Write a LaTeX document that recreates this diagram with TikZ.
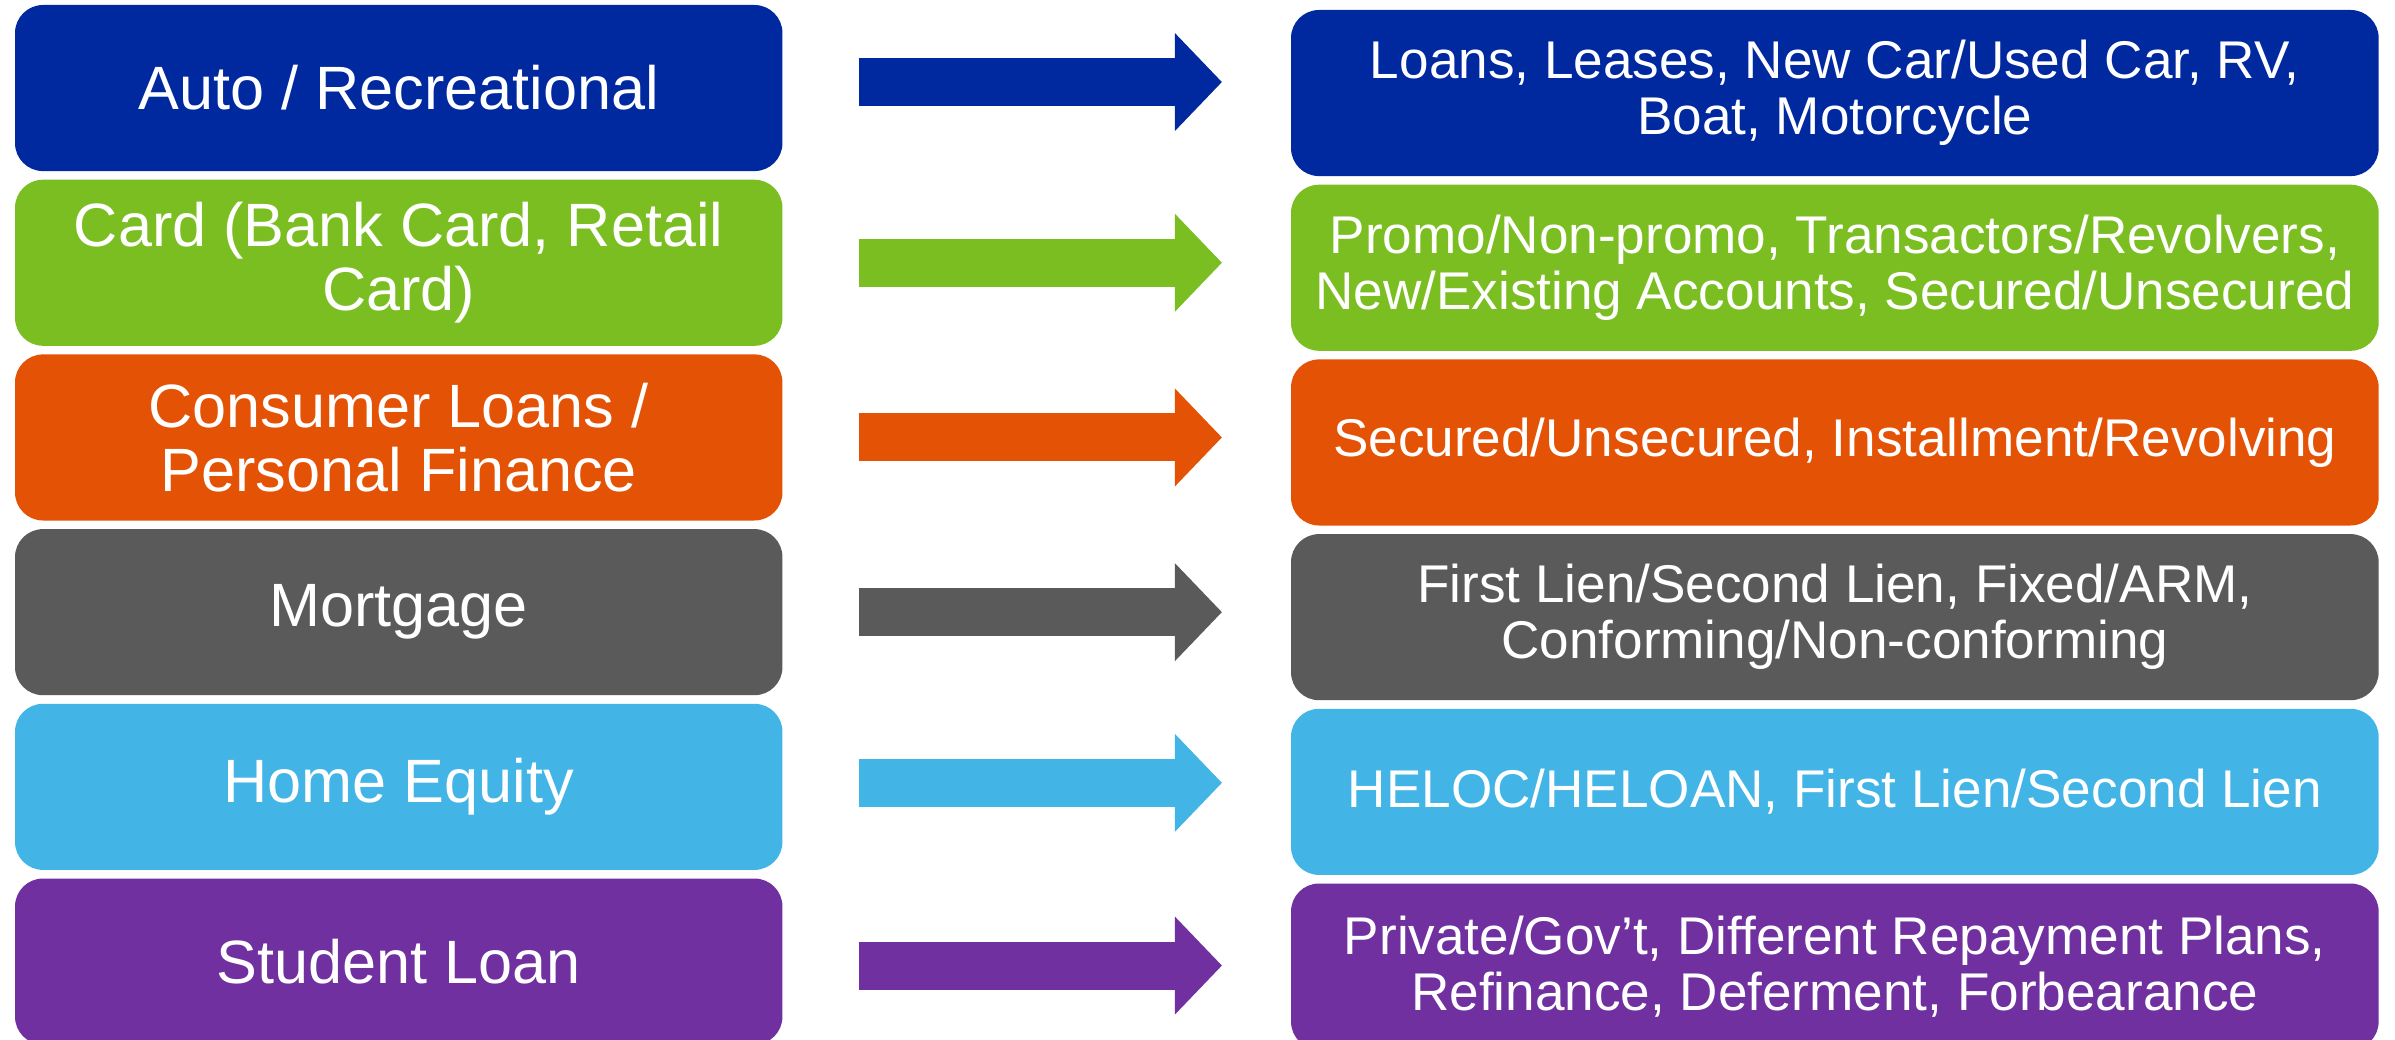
\documentclass[tikz,border=0pt]{standalone}
\usepackage{fontspec}
\setmainfont{Liberation Sans}
\usetikzlibrary{arrows.meta,positioning}
\definecolor{loanblue}{RGB}{0,41,160}
\definecolor{loangreen}{RGB}{123,190,34}
\definecolor{loanorange}{RGB}{227,82,5}
\definecolor{loangray}{RGB}{90,90,90}
\definecolor{loansky}{RGB}{66,181,230}
\definecolor{loanpurple}{RGB}{112,48,160}

\begin{document}
\begin{tikzpicture}[
    x=0.01cm, y=-0.01cm,
    node distance=0.086cm,
    segment/.style={rectangle, fill=#1, rounded corners=0.28cm, minimum width=7.67cm, minimum height=1.66cm, inner sep=0pt, outer sep=0pt, align=center, text=white, font=\fontsize{17.4}{18.3}\selectfont},
    detail/.style={rectangle, fill=#1, rounded corners=0.28cm, minimum width=10.87cm, minimum height=1.66cm, inner sep=0pt, outer sep=0pt, align=center, text=white, font=\fontsize{15.1}{15.9}\selectfont},
    arrow/.style={-{Triangle[length=0.47cm, width=0.95cm]}, line width=0.48cm, draw=#1}
]
    \useasboundingbox (0,0) rectangle (2395,1040);

    % product segments
    \node[segment=loanblue, anchor=north west] (auto) at (15,5) {Auto / Recreational};
    \node[segment=loangreen, below=of auto] (card) {Card (Bank Card, Retail\\Card)};
    \node[segment=loanorange, below=of card] (consumer) {Consumer Loans /\\Personal Finance};
    \node[segment=loangray, below=of consumer] (mortgage) {Mortgage};
    \node[segment=loansky, below=of mortgage] (equity) {Home Equity};
    \node[segment=loanpurple, below=of equity] (student) {Student Loan};

    % sub-segments
    \node[detail=loanblue, anchor=north west] (autoinfo) at (1291,10) {Loans, Leases, New Car/Used Car, RV,\\Boat, Motorcycle};
    \node[detail=loangreen, below=of autoinfo] (cardinfo) {Promo/Non-promo, Transactors/Revolvers,\\New/Existing Accounts, Secured/Unsecured};
    \node[detail=loanorange, below=of cardinfo] (consumerinfo) {Secured/Unsecured, Installment/Revolving};
    \node[detail=loangray, below=of consumerinfo] (mortgageinfo) {First Lien/Second Lien, Fixed/ARM,\\Conforming/Non-conforming};
    \node[detail=loansky, below=of mortgageinfo] (equityinfo) {HELOC/HELOAN, First Lien/Second Lien};
    \node[detail=loanpurple, below=of equityinfo] (studentinfo) {Private/Gov’t, Different Repayment Plans,\\Refinance, Deferment, Forbearance};

    \draw[arrow=loanblue] ([xshift=0.76cm, yshift=0.06cm]auto.east) -- ([xshift=-0.69cm, yshift=0.06cm]auto.east -| autoinfo.west);
    \draw[arrow=loangreen] ([xshift=0.76cm]card.east) -- ([xshift=-0.69cm]card.east -| cardinfo.west);
    \draw[arrow=loanorange] ([xshift=0.76cm]consumer.east) -- ([xshift=-0.69cm]consumer.east -| consumerinfo.west);
    \draw[arrow=loangray] ([xshift=0.76cm]mortgage.east) -- ([xshift=-0.69cm]mortgage.east -| mortgageinfo.west);
    \draw[arrow=loansky] ([xshift=0.76cm, yshift=0.04cm]equity.east) -- ([xshift=-0.69cm, yshift=0.04cm]equity.east -| equityinfo.west);
    \draw[arrow=loanpurple] ([xshift=0.76cm, yshift=-0.04cm]student.east) -- ([xshift=-0.69cm, yshift=-0.04cm]student.east -| studentinfo.west);
\end{tikzpicture}
\end{document}
